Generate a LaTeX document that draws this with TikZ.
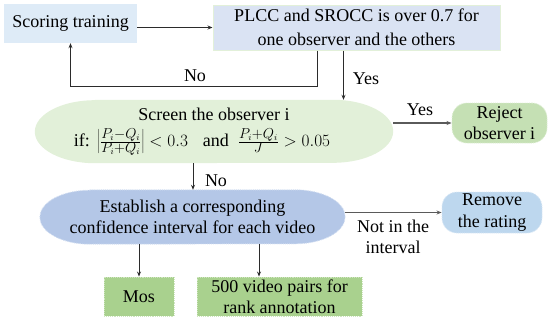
\documentclass[tikz,border=0pt]{standalone}
\usepackage{fontspec}
\setmainfont{LiberationSerif}[Extension=.ttf,UprightFont=*-Regular,BoldFont=*-Bold,ItalicFont=*-Italic,BoldItalicFont=*-BoldItalic]
\usetikzlibrary{arrows.meta,backgrounds}
\definecolor{cScore}{HTML}{DEEBF7}
\definecolor{cPlcc}{HTML}{DAE3F3}
\definecolor{cPlccB}{HTML}{E2F0D9}
\definecolor{cScr}{HTML}{E2F0D9}
\definecolor{cRej}{HTML}{C5E0B4}
\definecolor{cRejB}{HTML}{DCEDD2}
\definecolor{cEst}{HTML}{B4C7E7}
\definecolor{cEstB}{HTML}{D2DEF1}
\definecolor{cRem}{HTML}{BDD7EE}
\definecolor{cRemB}{HTML}{D8E7F5}
\definecolor{cMos}{HTML}{A9D18E}
\definecolor{cMosB}{HTML}{CFE6C0}
\definecolor{cLine}{HTML}{2B2B2B}
\definecolor{cGLine}{HTML}{5A5A5A}
\newcommand{\mathbig}[1]{{\fontsize{19}{23}\selectfont$#1$}}
\begin{document}
\begin{tikzpicture}[x=1pt,y=-1pt,font=\rmfamily\fontsize{18}{21.5}\selectfont]
\tikzset{
  box/.style={rectangle, inner sep=0pt, align=center},
  dotb/.style={densely dotted, line width=0.9pt},
  arr/.style={-{Stealth[length=5pt,width=4pt]}, line width=0.9pt, draw=cLine},
  garr/.style={-{Stealth[length=5pt,width=4pt]}, line width=1.4pt, draw=cGLine},
  lbl/.style={inner sep=0pt, align=center}
}
\useasboundingbox (0,0) rectangle (554,330);

% nodes
\node[box, fill=cScore, minimum width=133pt, minimum height=39pt] (st) at (70.5,23.5) {Scoring training};
\node[box, fill=cPlcc, draw=cPlccB, line width=1pt, minimum width=287pt, minimum height=45pt, font=\rmfamily\fontsize{18}{24}\selectfont] (plcc) at (356.5,27.5) {PLCC and SROCC is over 0.7 for\\one observer and the others};
\node[box, minimum width=358pt, minimum height=63pt] (scr) at (214,131.5) {Screen the observer i\\[4pt] if:\hspace{7pt}\mathbig{\left|\frac{P_i-Q_i}{P_i+Q_i}\right|<0.3}\hspace{15pt}and\hspace{9pt}\mathbig{\frac{P_i+Q_i}{J}>0.05}\hspace*{24pt}};
\node[box, fill=cRej, draw=cRejB, dotb, rounded corners=15pt, minimum width=95pt, minimum height=40pt] (rej) at (499.5,123) {Reject\\observer i};
\node[box, minimum width=305pt, minimum height=54pt] (est) at (192.5,217) {Establish a corresponding\\confidence interval for each video};
\node[box, fill=cRem, draw=cRemB, dotb, rounded corners=15pt, minimum width=100pt, minimum height=41pt] (rem) at (492,212.5) {Remove\\the rating};
\node[box, fill=cMos, draw=cMosB, dotb, minimum width=70pt, minimum height=39pt] (mos) at (139,296.5) {Mos};
\node[box, fill=cMos, draw=cMosB, dotb, minimum width=165pt, minimum height=39pt] (pairs) at (279.5,296.5) {500 video pairs for\\rank annotation};

% capsule backgrounds
\begin{scope}[on background layer]
\fill[cScr] ([xshift=60pt]scr.north west) -- ([xshift=-60pt]scr.north east)
  arc[start angle=90,end angle=-90,x radius=60pt,y radius=31.5pt]
  -- ([xshift=60pt]scr.south west)
  arc[start angle=270,end angle=90,x radius=60pt,y radius=31.5pt] -- cycle;
\filldraw[fill=cEst, draw=cEstB, dotb] ([xshift=50pt]est.north west) -- ([xshift=-50pt]est.north east)
  arc[start angle=90,end angle=-90,x radius=50pt,y radius=27pt]
  -- ([xshift=50pt]est.south west)
  arc[start angle=270,end angle=90,x radius=50pt,y radius=27pt] -- cycle;
\end{scope}

% connectors
\draw[arr] (st.east |- plcc.west) -- (plcc.west);
\coordinate (nob) at (317,86);
\draw[arr] (plcc.south -| nob) -- (nob) -| (st.south);
\node[lbl] (no1) at (195,76) {No};
\coordinate (yesx) at (343.5,0);
\draw[arr] (plcc.south -| yesx) -- (scr.north -| yesx);
\node[lbl] (yes1) at (366,79) {Yes};
\draw[garr] (scr.east |- rej.west) -- (rej.west);
\node[lbl] (yes2) at (420,110) {Yes};
\coordinate (nox) at (193,0);
\draw[arr] (scr.south -| nox) -- (est.north -| nox);
\node[lbl] (no2) at (216,181) {No};
\draw[garr] (est.east |- rem.west) -- (rem.west);
\node[lbl, font=\rmfamily\fontsize{18}{20.5}\selectfont] (nit) at (393,237) {Not in the\\interval};
\draw[arr] (est.south -| mos.north) -- (mos.north);
\coordinate (px) at (259,0);
\draw[arr] (est.south -| px) -- (pairs.north -| px);
\end{tikzpicture}
\end{document}
